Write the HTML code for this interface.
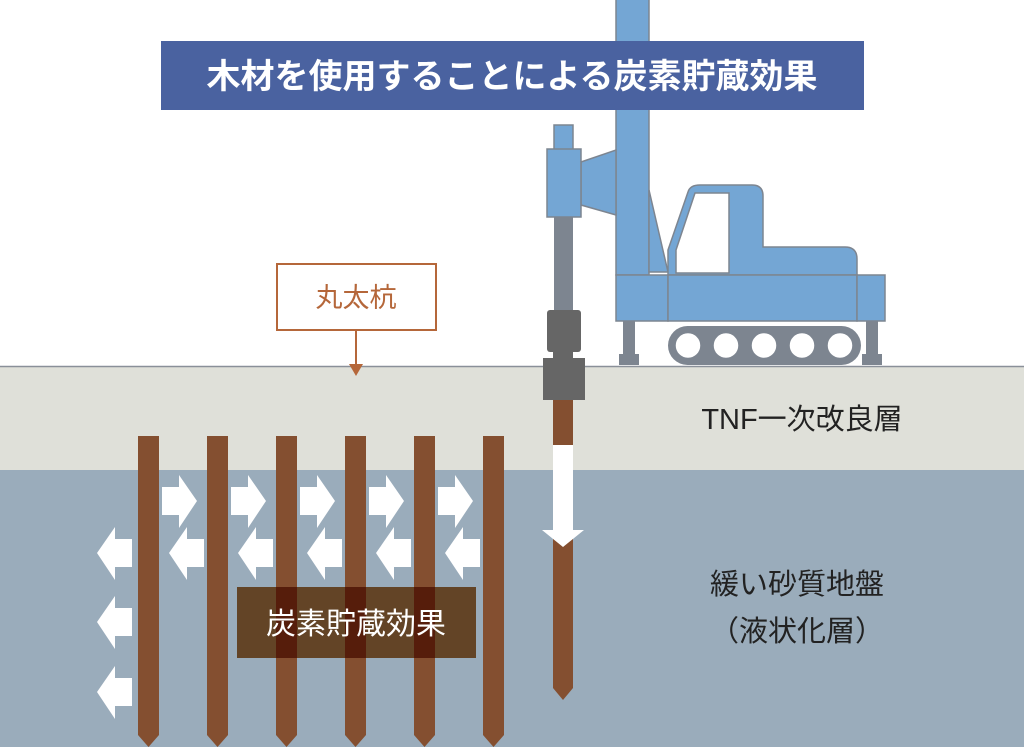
<!DOCTYPE html>
<html><head><meta charset="utf-8"><style>
body{margin:0;width:1024px;height:747px;overflow:hidden;background:#fff}
svg{display:block}
text{font-family:"Liberation Sans","Noto Sans CJK JP",sans-serif}
</style></head><body>
<svg width="1024" height="747" viewBox="0 0 1024 747" xmlns="http://www.w3.org/2000/svg">
<rect x="0" y="0" width="1024" height="747" fill="#fff"/>
<rect x="0" y="366" width="1024" height="104" fill="#dfe0d9"/>
<line x1="0" y1="366.5" x2="1024" y2="366.5" stroke="#8a9099" stroke-width="1.5"/>
<rect x="0" y="470" width="1024" height="277" fill="#9aacbb"/>

<g fill="#844f30">
<path d="M138,436h21v299l-10.5,12l-10.5,-12z"/>
<path d="M207,436h21v299l-10.5,12l-10.5,-12z"/>
<path d="M276,436h21v299l-10.5,12l-10.5,-12z"/>
<path d="M345,436h21v299l-10.5,12l-10.5,-12z"/>
<path d="M414,436h21v299l-10.5,12l-10.5,-12z"/>
<path d="M483,436h21v299l-10.5,12l-10.5,-12z"/>
</g>

<g fill="#fff">
<g id="ra"><path d="M162,487h17v-12l18,26l-18,27v-13h-17z"/></g>
<use href="#ra" x="69"/><use href="#ra" x="138"/><use href="#ra" x="207"/><use href="#ra" x="276"/>
<g id="la"><path d="M204,539h-17v-12l-18,26l18,27v-13h17z"/></g>
<use href="#la" x="69" y="0"/><use href="#la" x="138"/><use href="#la" x="207"/><use href="#la" x="276"/>
<use href="#la" x="-72"/><use href="#la" x="-72" y="69"/><use href="#la" x="-72" y="139"/>
</g>

<rect x="237" y="587" width="239" height="71" fill="#634426"/>
<g fill="#561d0b">
<rect x="276" y="587" width="21" height="71"/><rect x="345" y="587" width="21" height="71"/><rect x="414" y="587" width="21" height="71"/>
</g>
<text x="356" y="634" font-size="30" fill="#fff" text-anchor="middle">炭素貯蔵効果</text>

<g stroke="#7d8590" stroke-width="1.5" fill="#74a6d4">
<rect x="616" y="-2" width="33" height="277"/>
<path d="M649,190L668,272H649Z"/>
<path d="M581,162L616,150V215L581,205Z"/>
<rect x="554" y="125" width="19" height="25"/>
<rect x="547" y="149" width="34" height="68"/>
<path d="M668,275V250L688,192Q690,185 700,185H752Q763,185 763,196V247H845Q857,247 857,259V275Z"/>
<rect x="616" y="275" width="52" height="46"/>
<rect x="668" y="275" width="189" height="46"/>
<rect x="857" y="275" width="28" height="46"/>
</g>
<path d="M676,273V250L695,193H729V273Z" fill="#fff" stroke="#7d8590" stroke-width="1.5"/>
<rect x="554" y="217" width="19" height="93" fill="#7d8590"/>
<g fill="#7d8590">
<rect x="623" y="321" width="12" height="40"/><rect x="619" y="354" width="20" height="11"/>
<rect x="866" y="321" width="12" height="40"/><rect x="862" y="354" width="20" height="11"/>
<rect x="668" y="326" width="193" height="39" rx="19.5"/>
</g>
<g fill="#fff" stroke="#7d8590" stroke-width="1.5">
<circle cx="688" cy="345.5" r="13"/><circle cx="726" cy="345.5" r="13"/><circle cx="764" cy="345.5" r="13"/><circle cx="802" cy="345.5" r="13"/><circle cx="840" cy="345.5" r="13"/>
</g>
<g fill="#666">
<rect x="547" y="310" width="34" height="42" rx="3"/>
<rect x="553" y="350" width="20" height="10"/>
<rect x="543" y="358" width="42" height="42"/>
</g>
<path d="M553,400h20v288l-10,12l-10,-12z" fill="#844f30"/>
<path d="M553,445h20v85h11l-21,17l-21,-17h11z" fill="#fff"/>

<rect x="161" y="41" width="703" height="69" fill="#4a62a0"/>
<text x="512" y="88" font-size="34" font-weight="bold" fill="#fff" text-anchor="middle">木材を使用することによる炭素貯蔵効果</text>

<rect x="277" y="264" width="159" height="66" fill="#fff" stroke="#b5673a" stroke-width="2"/>
<text x="356" y="307" font-size="27" fill="#b5673a" text-anchor="middle">丸太杭</text>
<line x1="356" y1="330" x2="356" y2="366" stroke="#b5673a" stroke-width="2"/>
<path d="M349,364h14l-7,12z" fill="#b5673a"/>

<text x="802" y="429" font-size="29" fill="#222" text-anchor="middle">TNF一次改良層</text>
<text x="797" y="594" font-size="29" fill="#222" text-anchor="middle">緩い砂質地盤</text>
<text x="797" y="641" font-size="29" fill="#222" text-anchor="middle">（液状化層）</text>
</svg>
</body></html>
